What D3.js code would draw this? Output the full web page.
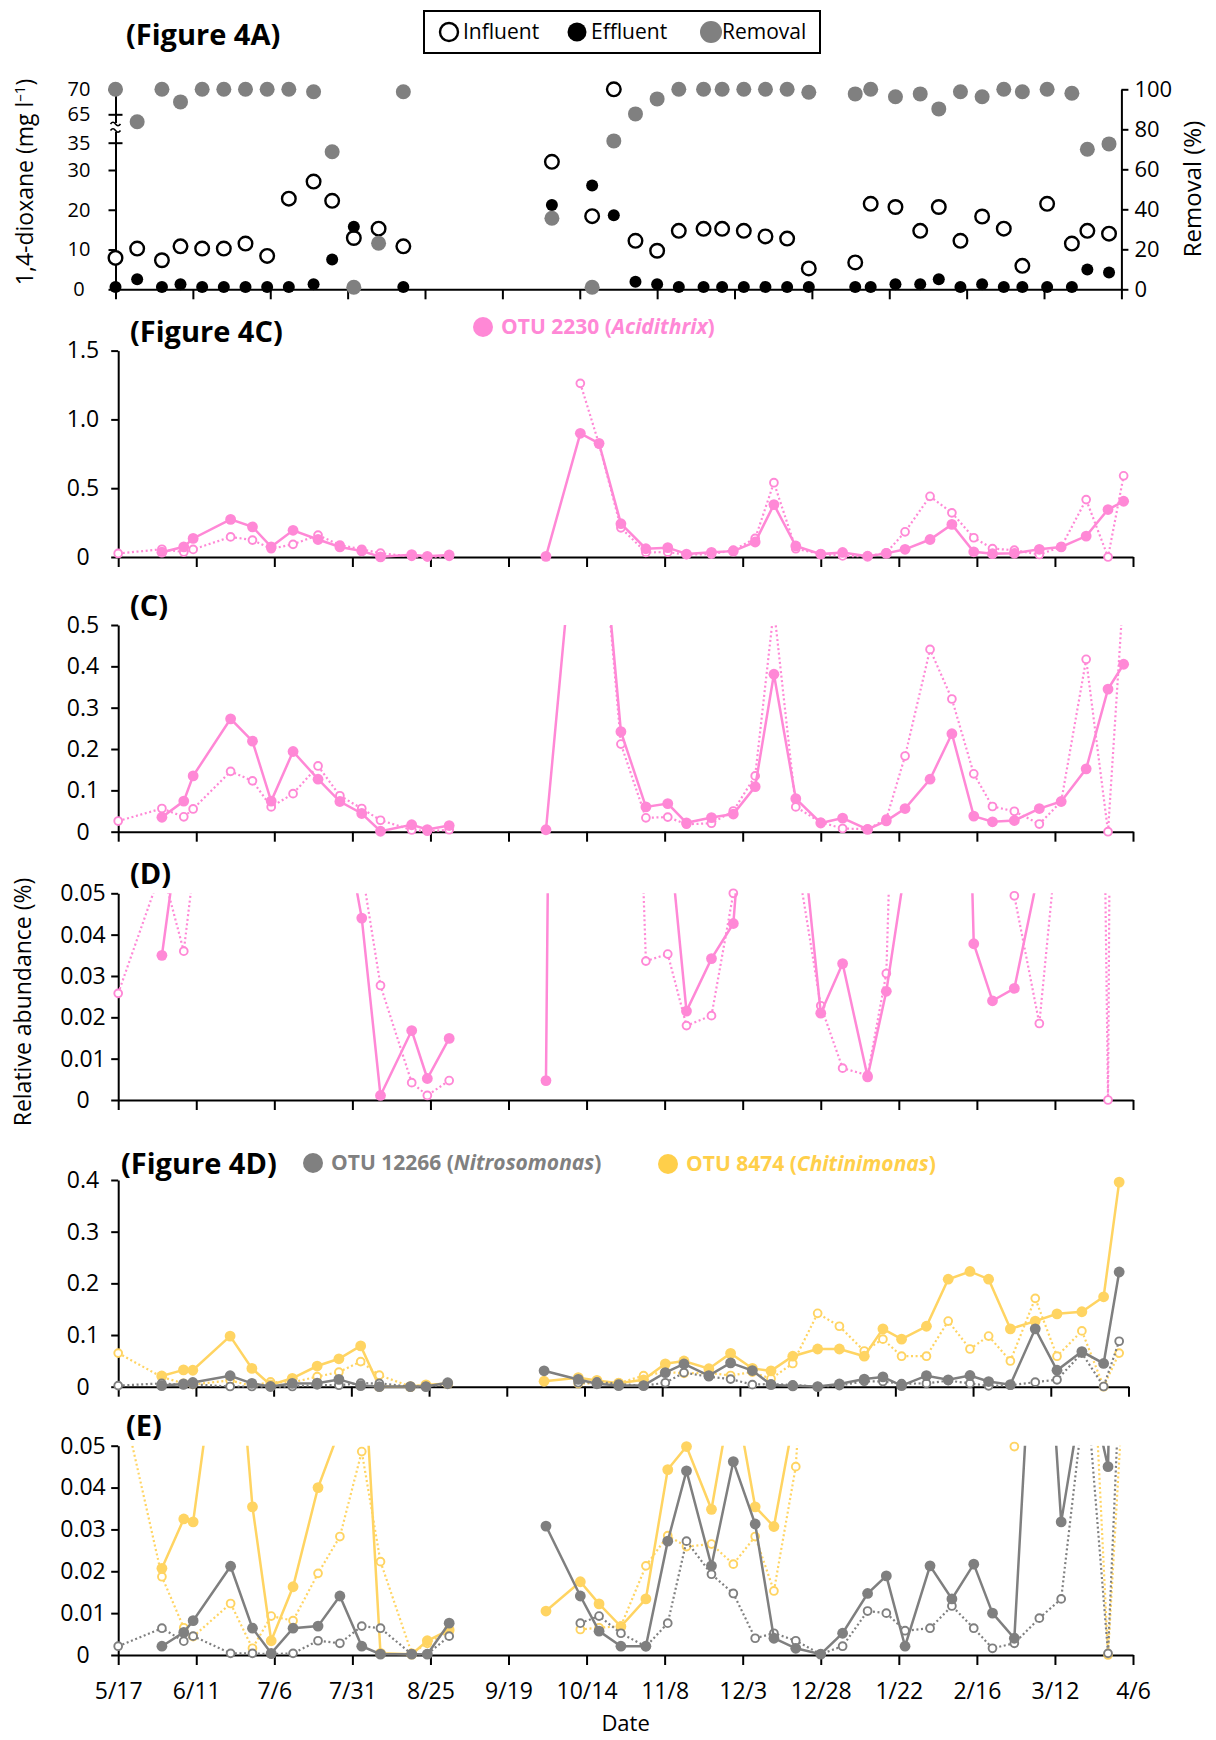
<!DOCTYPE html>
<html>
<head>
<meta charset="utf-8">
<script src="https://cdn.jsdelivr.net/npm/d3@7"></script>
<style>
  body { margin: 0; background: #fff; }
</style>
</head>
<body>
<div id="chart"></div>
<script>
// ---- data ----
// x tick labels (every 25 days, May -> April)
const dateTicks = ['5/17', '6/11', '7/6', '7/31', '8/25', '9/19', '10/14', '11/8', '12/3', '12/28', '1/22', '2/16', '3/12', '4/6'];

// Figure 4A: sampling day (days after 5/17), 1,4-dioxane (mg/l) and removal (%)
const dioxaneDay = [0, 7, 15, 21, 28, 35, 42, 49, 56, 64, 70, 77, 85, 93,
  141, 154, 161, 168, 175, 182, 190, 196, 203, 210, 217, 224, 239, 244, 252, 260, 266, 273, 280, 287, 293, 301, 309, 314, 321];
const influent = [7.9, 10.25, 7.3, 10.8, 10.25, 10.25, 11.5, 8.4, 22.8, 27.1, 22.25, 12.9, 15.25, 10.8,
  31.5, 18.4, 70, 12.2, 9.7, 14.7, 15.2, 15.2, 14.7, 13.3, 12.75, 5.25, 6.75, 21.5, 20.7, 14.7, 20.7, 12.2, 18.3, 15.25, 5.9, 21.5, 11.5, 14.7, 14];
const effluent = [0.6, 2.5, 0.6, 1.25, 0.6, 0.6, 0.6, 0.6, 0.6, 1.3, 7.5, 15.7, 11.7, 0.6,
  21.2, 26.1, 18.6, 1.9, 1.3, 0.6, 0.6, 0.6, 0.6, 0.6, 0.6, 0.6, 0.6, 0.6, 1.3, 1.3, 2.5, 0.6, 1.3, 0.6, 0.6, 0.6, 0.6, 5, 4.25];
const removal = [100, 83.8, 100, 93.7, 100, 100, 100, 100, 100, 98.8, 68.8, 1, 23, 98.8,
  35.5, 1, 74.2, 87.7, 95.2, 100, 100, 100, 100, 100, 100, 98.5, 97.7, 100, 96.3, 97.7, 90.2, 98.8, 96.3, 100, 98.8, 100, 98, 70, 72.7];
const concTicks = [0, 10, 20, 30, 35, 65, 70];
const removalTicks = [0, 20, 40, 60, 80, 100];

// OTU relative abundance (%), sampling day after 5/17
const otuDay = [0, 14, 21, 24, 36, 43, 49, 56, 64, 71, 78, 84, 94, 99, 106,
  137, 148, 154, 161, 169, 176, 182, 190, 197, 204, 210, 217, 225, 232, 240, 246, 252, 260, 267, 274, 280, 287, 295, 302, 310, 317, 322];
const acidFilled = [null, 0.035, 0.074, 0.135, 0.273, 0.219, 0.074, 0.194, 0.127, 0.073, 0.044, 0.0011, 0.0168, 0.0052, 0.0149,
  0.0047, 0.899, 0.826, 0.242, 0.060, 0.068, 0.0215, 0.0342, 0.0427, 0.109, 0.381, 0.080, 0.021, 0.033, 0.0056, 0.0263, 0.056, 0.127, 0.237, 0.0378, 0.024, 0.027, 0.056, 0.073, 0.152, 0.345, 0.405];
const acidOpen = [0.0258, 0.056, 0.036, 0.055, 0.146, 0.123, 0.060, 0.092, 0.159, 0.087, 0.056, 0.0277, 0.0042, 0.0011, 0.0047,
  null, 1.262, 0.82, 0.212, 0.0336, 0.0353, 0.018, 0.0204, 0.050, 0.135, 0.54, 0.060, 0.0228, 0.0077, 0.006, 0.0306, 0.183, 0.441, 0.321, 0.140, 0.061, 0.0494, 0.0185, 0.073, 0.417, 0.0, 0.59];
const nitroFilled = [null, 0.0021, 0.0054, 0.0082, 0.0212, 0.0064, 0.0004, 0.0064, 0.0069, 0.0141, 0.0021, 0.0002, 0.0002, 0.0002, 0.0076,
  0.0308, 0.0141, 0.0057, 0.0021, 0.0021, 0.0272, 0.044, 0.0213, 0.0462, 0.0313, 0.004, 0.0016, 0.0002, 0.0052, 0.0147, 0.0189, 0.0021, 0.0213, 0.0134, 0.0217, 0.01, 0.004, 0.112, 0.0318, 0.068, 0.045, 0.222];
const nitroOpen = [0.0021, 0.0064, 0.0033, 0.0045, 0.0004, 0.0004, 0.0002, 0.0004, 0.0034, 0.0028, 0.0069, 0.0064, 0.0002, 0.0002, 0.0045,
  null, 0.0076, 0.0093, 0.0052, 0.002, 0.0076, 0.0272, 0.0193, 0.0147, 0.004, 0.0052, 0.0034, 0.0002, 0.0021, 0.0105, 0.01, 0.0058, 0.0064, 0.0117, 0.0064, 0.0016, 0.0028, 0.0088, 0.0134, 0.065, 0.0004, 0.088];
const chitFilled = [null, 0.0207, 0.0325, 0.0318, 0.098, 0.0354, 0.0034, 0.0163, 0.040, 0.054, 0.079, 0.0004, 0.0002, 0.0034, 0.006,
  0.0105, 0.0175, 0.0122, 0.0068, 0.0134, 0.0443, 0.0498, 0.0348, 0.0645, 0.0354, 0.0307, 0.059, 0.073, 0.073, 0.059, 0.112, 0.092, 0.117, 0.208, 0.223, 0.208, 0.112, 0.127, 0.141, 0.145, 0.174, 0.396];
const chitOpen = [0.065, 0.0187, 0.0065, 0.0044, 0.0123, 0.0016, 0.0093, 0.0082, 0.0195, 0.0283, 0.0486, 0.0223, 0.0004, 0.0028, 0.0056,
  null, 0.0061, 0.0065, 0.0069, 0.0213, 0.0285, 0.0259, 0.0265, 0.0217, 0.0283, 0.0153, 0.045, 0.142, 0.117, 0.069, 0.092, 0.059, 0.059, 0.127, 0.073, 0.098, 0.0498, 0.171, 0.059, 0.108, 0.0, 0.065];

// ---- setup ----
const FONT = "'Open Sans', 'Noto Sans', sans-serif";
const PINK = '#ff88d6';
const GREY = '#7f7f7f';
const GOLD = '#ffd462';

// date label -> days after 5/17 (season spans a leap February)
const start = new Date(2019, 4, 17);
function dayOf(label) {
  const [m, d] = label.split('/').map(Number);
  return Math.round((new Date(m >= 5 ? 2019 : 2020, m - 1, d) - start) / 864e5);
}
const tickDays = dateTicks.map(dayOf);
const lastDay = tickDays[tickDays.length - 1];

const svg = d3.select('#chart')
  .append('svg')
  .attr('width', 1216)
  .attr('height', 1740)
  .style('font-family', FONT);

function styleAxis(g, size = 23) {
  g.selectAll('path, line').attr('stroke', '#000').attr('stroke-width', 2);
  g.selectAll('text').attr('font-size', size).attr('font-family', FONT).attr('fill', '#000');
}

function title(txt, x, y) {
  svg.append('text').attr('x', x).attr('y', y)
    .attr('font-size', 29).attr('font-weight', 700).text(txt);
}

function legendEntry(x, y, color, name, genus) {
  svg.append('circle').attr('cx', x).attr('cy', y).attr('r', 10).attr('fill', color);
  const t = svg.append('text').attr('x', x + 18).attr('y', y + 7)
    .attr('font-size', 21).attr('font-weight', 700).attr('fill', color);
  t.append('tspan').text(name + ' (');
  t.append('tspan').attr('font-style', 'italic').text(genus);
  t.append('tspan').text(')');
}

// ---- Figure 4A ----
const xTop = d3.scaleLinear().domain([0, lastDay]).range([115.5, 1121.4]);
const yConc = d3.scaleLinear().domain([0, 30, 35, 65, 70]).range([289.3, 170, 142.7, 114.3, 89.3]);
const yRem = d3.scaleLinear().domain([0, 100]).range([289.3, 89.3]);

svg.append('g')
  .attr('transform', `translate(0, ${yConc(0)})`)
  .call(d3.axisBottom(xTop).tickValues(tickDays).tickSize(10).tickSizeOuter(0).tickFormat(''))
  .call(styleAxis);

const leftAxis = svg.append('g')
  .attr('transform', `translate(${xTop.range()[0]}, 0)`)
  .call(d3.axisLeft(yConc).tickValues(concTicks).tickSize(7).tickSizeOuter(0))
  .call(styleAxis, 20);
leftAxis.selectAll('.tick text').attr('x', 79 - xTop.range()[0]).attr('text-anchor', 'middle');
leftAxis.selectAll('.tick').filter(d => d === 35 || d === 65)
  .select('line').attr('x2', 7).attr('x1', -7);

// axis break mark
const bx = xTop.range()[0];
svg.append('rect').attr('x', bx - 3).attr('y', 123).attr('width', 6).attr('height', 9).attr('fill', '#fff');
[124, 130.5].forEach(by => {
  svg.append('path')
    .attr('d', `M${bx - 5},${by} q2.5,-3.5 5,0 t5,0`)
    .attr('fill', 'none').attr('stroke', '#000').attr('stroke-width', 1.6);
});

svg.append('g')
  .attr('transform', `translate(${xTop.range()[1]}, 0)`)
  .call(d3.axisRight(yRem).tickValues(removalTicks).tickSize(7).tickPadding(6).tickSizeOuter(0))
  .call(styleAxis, 22);

svg.append('g').selectAll('circle')
  .data(dioxaneDay.map((d, i) => ({ d, v: influent[i] })))
  .join('circle')
    .attr('cx', p => xTop(p.d))
    .attr('cy', p => yConc(p.v))
    .attr('r', 6.8)
    .attr('fill', '#fff')
    .attr('stroke', '#000')
    .attr('stroke-width', 2.4);

svg.append('g').selectAll('circle')
  .data(dioxaneDay.map((d, i) => ({ d, v: effluent[i] })))
  .join('circle')
    .attr('cx', p => xTop(p.d))
    .attr('cy', p => yConc(p.v))
    .attr('r', 6)
    .attr('fill', '#000');

svg.append('g').selectAll('circle')
  .data(dioxaneDay.map((d, i) => ({ d, v: removal[i] })))
  .join('circle')
    .attr('cx', p => xTop(p.d))
    .attr('cy', p => yRem(p.v))
    .attr('r', 7.5)
    .attr('fill', '#808080');

svg.append('text')
  .attr('transform', 'translate(33, 182) rotate(-90)')
  .attr('text-anchor', 'middle').attr('font-size', 23)
  .call(t => {
    t.append('tspan').text('1,4-dioxane (mg l');
    t.append('tspan').attr('dy', -8).attr('font-size', 15).text('\u20131');
    t.append('tspan').attr('dy', 8).text(')');
  });
svg.append('text')
  .attr('transform', 'translate(1201, 189) rotate(-90)')
  .attr('text-anchor', 'middle').attr('font-size', 24)
  .text('Removal (%)');

title('(Figure 4A)', 126, 45);

// legend box
svg.append('rect').attr('x', 424).attr('y', 11).attr('width', 396).attr('height', 42)
  .attr('fill', '#fff').attr('stroke', '#000').attr('stroke-width', 2);
svg.append('circle').attr('cx', 449).attr('cy', 32).attr('r', 9)
  .attr('fill', '#fff').attr('stroke', '#000').attr('stroke-width', 2.4);
svg.append('text').attr('x', 463).attr('y', 39).attr('font-size', 21).text('Influent');
svg.append('circle').attr('cx', 577).attr('cy', 32).attr('r', 9.5).attr('fill', '#000');
svg.append('text').attr('x', 591).attr('y', 39).attr('font-size', 21).text('Effluent');
svg.append('circle').attr('cx', 711).attr('cy', 32).attr('r', 11).attr('fill', '#808080');
svg.append('text').attr('x', 722).attr('y', 39).attr('font-size', 21).text('Removal');

// ---- OTU panels ----
const acidSeries = [
  { values: acidOpen, color: PINK, open: true },
  { values: acidFilled, color: PINK, open: false }
];
const nitroChitSeries = [
  { values: chitOpen, color: GOLD, open: true },
  { values: chitFilled, color: GOLD, open: false },
  { values: nitroOpen, color: GREY, open: true },
  { values: nitroFilled, color: GREY, open: false }
];

const fmt1 = d => d === 0 ? '0' : d3.format('.1f')(d);
const fmt2 = d => d === 0 ? '0' : d3.format('.2f')(d);

const panels = [
  { id: 'p4c', top: 350.6, bottom: 557, right: 1133, max: 1.5, ticks: [0, 0.5, 1, 1.5], fmt: fmt1, series: acidSeries },
  { id: 'pc', top: 625, bottom: 831.7, right: 1133, max: 0.5, ticks: [0, 0.1, 0.2, 0.3, 0.4, 0.5], fmt: fmt1, series: acidSeries },
  { id: 'pd', top: 893.3, bottom: 1100, right: 1133, max: 0.05, ticks: [0, 0.01, 0.02, 0.03, 0.04, 0.05], fmt: fmt2, series: acidSeries },
  { id: 'p4d', top: 1180, bottom: 1386.7, right: 1128.5, max: 0.4, ticks: [0, 0.1, 0.2, 0.3, 0.4], fmt: fmt1, series: nitroChitSeries },
  { id: 'pe', top: 1445.7, bottom: 1655, right: 1133, max: 0.05, ticks: [0, 0.01, 0.02, 0.03, 0.04, 0.05], fmt: fmt2, series: nitroChitSeries, dates: true }
];

const left = 118.2;

panels.forEach(p => {
  const x = d3.scaleLinear().domain([0, lastDay]).range([left, p.right]);
  const y = d3.scaleLinear().domain([0, p.max]).range([p.bottom, p.top]);
  const g = svg.append('g');

  svg.append('clipPath').attr('id', p.id)
    .append('rect')
      .attr('x', left - 10).attr('y', p.top)
      .attr('width', p.right - left + 20).attr('height', p.bottom - p.top + 10);

  const xa = g.append('g')
    .attr('transform', `translate(0, ${p.bottom})`)
    .call(d3.axisBottom(x).tickValues(tickDays).tickSize(10).tickSizeOuter(0)
      .tickFormat((d, i) => p.dates ? dateTicks[i] : ''))
    .call(styleAxis);
  xa.selectAll('.tick text').attr('y', 44).attr('dy', 0);

  const ya = g.append('g')
    .attr('transform', `translate(${left}, 0)`)
    .call(d3.axisLeft(y).tickValues(p.ticks).tickSize(7).tickSizeOuter(0).tickFormat(p.fmt))
    .call(styleAxis);
  ya.selectAll('.tick text').attr('x', 83 - left).attr('text-anchor', 'middle');

  const line = d3.line().x(q => x(q.d)).y(q => y(q.v));

  p.series.forEach(s => {
    const pts = otuDay.map((d, i) => ({ d, v: s.values[i] })).filter(q => q.v != null);
    // sampling gap over late summer breaks the line
    const segs = [];
    pts.forEach((q, i) => {
      if (i === 0 || q.d - pts[i - 1].d > 20) segs.push([]);
      segs[segs.length - 1].push(q);
    });

    g.append('g')
      .attr('clip-path', `url(#${p.id})`)
      .selectAll('path')
      .data(segs)
      .join('path')
        .attr('d', line)
        .attr('fill', 'none')
        .attr('stroke', s.color)
        .attr('stroke-width', s.open ? 2.2 : 2.5)
        .attr('stroke-dasharray', s.open ? '2,2.6' : null);

    g.append('g')
      .selectAll('circle')
      .data(pts.filter(q => q.v <= p.max + 1e-9))
      .join('circle')
        .attr('cx', q => x(q.d))
        .attr('cy', q => y(q.v))
        .attr('r', s.open ? 3.9 : 5.4)
        .attr('fill', s.open ? '#fff' : s.color)
        .attr('stroke', s.open ? s.color : 'none')
        .attr('stroke-width', 1.9);
  });
});

title('(Figure 4C)', 130, 342);
title('(C)', 130, 616);
title('(D)', 130, 884);
title('(Figure 4D)', 121, 1174);
title('(E)', 126, 1436);

legendEntry(483, 327, PINK, 'OTU 2230', 'Acidithrix');
legendEntry(313, 1163, '#808080', 'OTU 12266', 'Nitrosomonas');
legendEntry(668, 1164, '#ffcf4a', 'OTU 8474', 'Chitinimonas');

svg.append('text')
  .attr('transform', 'translate(31, 1002) rotate(-90)')
  .attr('text-anchor', 'middle').attr('font-size', 23)
  .text('Relative abundance (%)');

svg.append('text')
  .attr('x', (left + 1133) / 2).attr('y', 1731)
  .attr('text-anchor', 'middle').attr('font-size', 22)
  .text('Date');
</script>
</body>
</html>
